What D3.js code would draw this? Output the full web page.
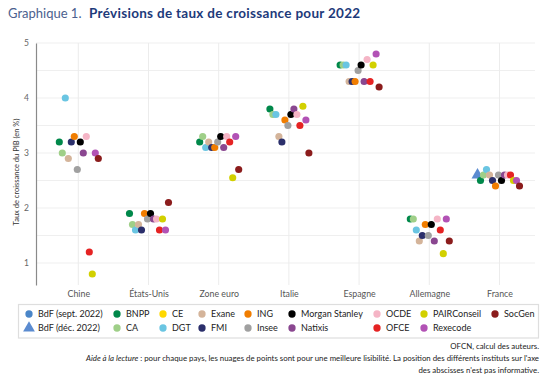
<!DOCTYPE html>
<html><head><meta charset="utf-8">
<script src="https://cdn.jsdelivr.net/npm/d3@7"></script>
<style>
html,body{margin:0;padding:0;background:#fff;}
svg{display:block;font-family:Lato,"Open Sans",sans-serif;}
</style></head>
<body>
<svg id="chart" width="550" height="382"></svg>
<script>
// ---- DATA ----
const countries = ["Chine","États-Unis","Zone euro","Italie","Espagne","Allemagne","France"];
const yTicks = [1,2,3,4,5];
const institutes = ["BdF (sept. 2022)","BdF (déc. 2022)","BNPP","CA","CE","DGT","Exane","FMI","ING","Insee","Morgan Stanley","Natixis","OCDE","OFCE","PAIRConseil","Rexecode","SocGen"];
const instituteColors = ["#4a86c8","#5b8bd0","#00884a","#9fcf88","#ffd800","#6ac5e2","#d4b49a","#2b2f6b","#f07d00","#a0a0a0","#000000","#8a4790","#f5b5c6","#e52323","#d2d000","#b252b5","#8b1c1c"];
const bdfSept  = [null,null,null,null,null,null,null];
const bdfDec   = [null,null,null,null,null,null,2.6];
const bnpp     = [3.2,1.9,3.2,3.8,4.6,1.8,2.5];
const ca       = [3.0,1.7,3.3,3.7,4.6,1.8,2.6];
const ce       = [null,null,null,null,null,null,null];
const dgt      = [4.0,1.6,3.1,3.7,4.6,1.6,2.7];
const exane    = [2.9,1.7,3.2,3.3,4.3,1.4,2.6];
const fmi      = [3.2,1.6,3.1,3.2,4.3,1.5,2.5];
const ing      = [3.3,1.9,3.1,3.6,4.3,1.7,2.4];
const insee    = [2.7,1.8,3.2,3.5,4.5,1.5,2.6];
const morgan   = [3.2,1.9,3.3,3.7,4.6,1.7,2.5];
const natixis  = [3.0,1.8,3.1,3.8,4.3,1.4,2.6];
const ocde     = [3.3,1.8,3.3,3.7,4.7,1.8,2.6];
const ofce     = [1.2,1.6,3.2,3.5,4.3,1.6,2.6];
const pair     = [0.8,1.8,2.55,3.85,4.6,1.17,2.5];
const rexecode = [3.0,1.6,3.3,3.6,4.8,1.8,2.5];
const socgen   = [2.9,2.1,2.7,3.0,4.2,1.4,2.4];
const seriesValues = [bdfSept,bdfDec,bnpp,ca,ce,dgt,exane,fmi,ing,insee,morgan,natixis,ocde,ofce,pair,rexecode,socgen];
const triangleInstitutes = ["BdF (déc. 2022)"];

// ---- BUILD ----
const svg = d3.select("#chart");
const color = d3.scaleOrdinal().domain(institutes).range(instituteColors);
const x = d3.scalePoint().domain(countries).range([78.3, 499.5]);
const y = d3.scaleLinear().domain([0.6, 5]).range([285, 43]);

const plotted = institutes.filter((n,i)=>seriesValues[i].some(v=>v!=null));
const jitter = d3.scalePoint().domain(plotted).range([-22, 20]);

const points = [];
institutes.forEach((name,i)=>{
  seriesValues[i].forEach((v,j)=>{ if(v!=null) points.push({inst:name, country:countries[j], v}); });
});

// title
svg.append("text").attr("x",8).attr("y",18).attr("font-size",13).attr("fill","#4b5f8e").text("Graphique 1.");
svg.append("text").attr("x",89).attr("y",18).attr("font-size",13.5).attr("letter-spacing",0.3)
  .attr("fill","#1d3a7a").attr("font-weight","bold").text("Prévisions de taux de croissance pour 2022");

// gridlines
const halfTicks = d3.range(1, 5.01, 0.5);
svg.append("g").selectAll("line").data(halfTicks).join("line")
  .attr("x1",36).attr("x2",535).attr("y1",d=>y(d)).attr("y2",d=>y(d))
  .attr("stroke","#efefef").attr("stroke-width",1);
svg.append("g").selectAll("line").data(countries).join("line")
  .attr("x1",d=>x(d)).attr("x2",d=>x(d)).attr("y1",y(5)).attr("y2",y(0.6))
  .attr("stroke","#ececec").attr("stroke-width",1);

// y axis
const yAxis = d3.axisLeft(y).tickValues(yTicks).tickSize(0).tickPadding(7).tickFormat(d3.format("d"));
const gy = svg.append("g").attr("transform","translate(36,0)").call(yAxis);
gy.select(".domain").attr("stroke","#8a8a8a").attr("stroke-width",1.2);
gy.selectAll("text").attr("font-size",8.5).attr("fill","#666").attr("font-family","Lato,sans-serif");

// x labels
const xAxis = d3.axisBottom(x).tickSize(0).tickPadding(6);
const gx = svg.append("g").attr("transform",`translate(0,${y(0.6)})`).call(xAxis);
gx.select(".domain").remove();
gx.selectAll("text").attr("font-size",8.8).attr("fill","#555").attr("font-family","Lato,sans-serif");

// y title
svg.append("text").attr("transform","translate(18.5,172) rotate(-90)")
  .attr("text-anchor","middle").attr("font-size",7.5).attr("fill","#333")
  .text("Taux de croissance du PIB (en %)");

// points
const tri = d3.symbol().type(d3.symbolTriangle).size(62);
svg.append("g").selectAll("path").data(points).join("path")
  .attr("transform",d=>`translate(${x(d.country)+jitter(d.inst)},${y(d.v)})`)
  .attr("d",d=> triangleInstitutes.includes(d.inst) ? tri() : d3.symbol().type(d3.symbolCircle).size(40)())
  .attr("fill",d=>color(d.inst));

// legend
svg.append("rect").attr("x",18.5).attr("y",304.5).attr("width",520).attr("height",33.5)
  .attr("fill","#fff").attr("stroke","#dedede").attr("stroke-width",1.2);
const colX = [29,117,163,202,248,292,377,424,495];
const lg = svg.append("g").selectAll("g").data(institutes).join("g")
  .attr("transform",(d,i)=>`translate(${colX[Math.floor(i/2)]},${314 + (i%2)*14})`);
lg.append("path")
  .attr("d",d=> triangleInstitutes.includes(d) ? d3.symbol().type(d3.symbolTriangle).size(60)() : d3.symbol().type(d3.symbolCircle).size(42)())
  .attr("fill",d=>color(d));
lg.append("text").attr("x",9).attr("y",3.3).attr("font-size",9).attr("fill","#222").text(d=>d);

// footer
const foot = svg.append("g").attr("font-size",7.85).attr("fill","#222").attr("text-anchor","end");
foot.append("text").attr("x",539).attr("y",349).text("OFCN, calcul des auteurs.");
const l2 = foot.append("text").attr("x",539).attr("y",361);
l2.append("tspan").attr("font-style","italic").text("Aide à la lecture");
l2.append("tspan").text(" : pour chaque pays, les nuages de points sont pour une meilleure lisibilité. La position des différents instituts sur l'axe");
foot.append("text").attr("x",539).attr("y",373).text("des abscisses n'est pas informative.");
</script>
</body></html>
